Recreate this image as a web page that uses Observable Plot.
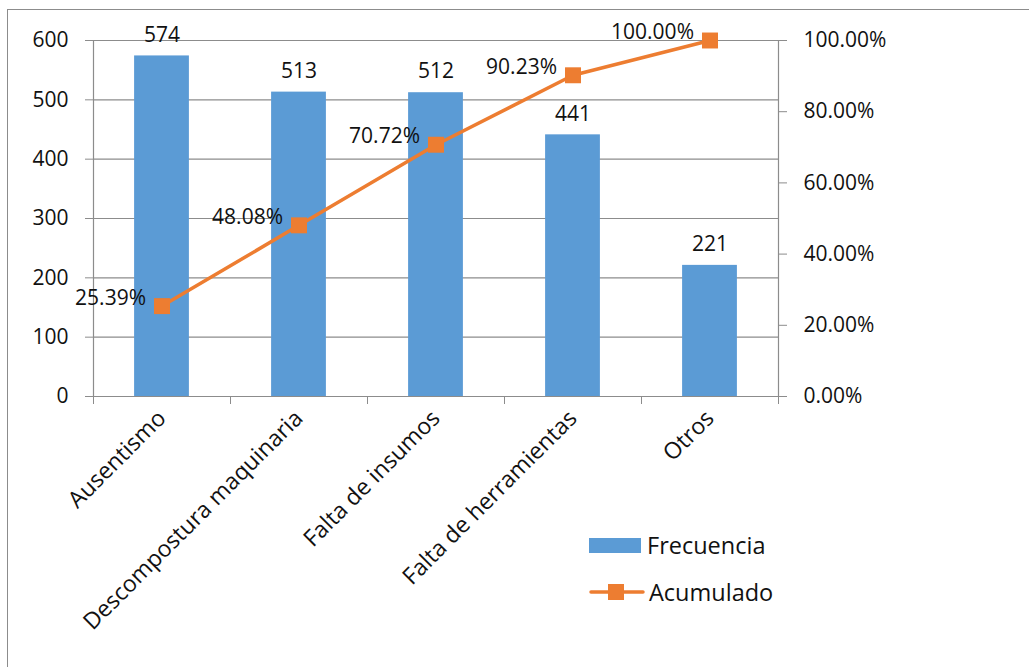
<!DOCTYPE html>
<html>
<head>
<meta charset="utf-8">
<script src="https://cdn.jsdelivr.net/npm/d3@7"></script>
<script src="https://cdn.jsdelivr.net/npm/@observablehq/plot@0.6"></script>
<style>
  html, body { margin: 0; padding: 0; background: #fff; }
  #wrap { position: relative; width: 1029px; height: 667px; overflow: hidden; font-family: "Open Sans", Lato, sans-serif; }
  #frame { position: absolute; left: 7px; top: 9px; width: 1040px; height: 700px; border: 1px solid #8c8c8c; box-sizing: border-box; pointer-events: none; }
  #chart { position: absolute; left: 0; top: 0; }
  .legend { position: absolute; left: 589px; font-size: 23.5px; color: #111; }
  .legend .row { position: absolute; left: 0; display: flex; align-items: center; white-space: nowrap; }
  .legend .swatch { width: 52px; height: 15px; background: #5B9BD5; margin-right: 6px; }
  .legend svg { margin-right: 4px; }
</style>
</head>
<body>
<div id="wrap">
  <div id="frame"></div>
  <div id="chart"></div>
  <div class="legend" style="top:529px">
    <div class="row" style="top:0"><div class="swatch"></div><span>Frecuencia</span></div>
    <div class="row" style="top:47px">
      <svg width="56" height="20"><line x1="2" y1="10" x2="54" y2="10" stroke="#ED7D31" stroke-width="3.5" stroke-linecap="round"/><rect x="19" y="2" width="16" height="16" fill="#ED7D31"/></svg>
      <span>Acumulado</span>
    </div>
  </div>
</div>
<script>
// Causes of downtime (Pareto)
const categorias = ["Ausentismo", "Descompostura maquinaria", "Falta de insumos", "Falta de herramientas", "Otros"];
const frecuencia = [574, 513, 512, 441, 221];
const acumulado = [25.39, 48.08, 70.72, 90.23, 100.00];
const ticksFrecuencia = [0, 100, 200, 300, 400, 500, 600];
const ticksAcumulado = [0, 20, 40, 60, 80, 100];

// the right axis shares the left scale: 100% sits at 600
const escala = 600 / 100;

const datos = categorias.map((c, i) => ({i, categoria: c, frecuencia: frecuencia[i], acumulado: acumulado[i]}));
const grid = "#8c8c8c";

const chart = Plot.plot({
  width: 1029,
  height: 667,
  marginLeft: 93,
  marginRight: 251,
  marginTop: 40,
  marginBottom: 271,
  style: {fontFamily: "'Open Sans', Lato, sans-serif", fontSize: "21px", color: "#111", background: "transparent"},
  x: {type: "linear", domain: [-0.5, categorias.length - 0.5]},
  y: {domain: [0, 600]},
  marks: [
    Plot.ruleY(ticksFrecuencia.slice(1), {stroke: grid, strokeWidth: 1.2}),
    Plot.rectY(datos, {x1: d => d.i - 0.2, x2: d => d.i + 0.2, y: "frecuencia", fill: "#5B9BD5"}),
    Plot.ruleY([0], {stroke: grid, strokeWidth: 1.2}),
    Plot.ruleX([-0.5, categorias.length - 0.5], {y1: 0, y2: 600, stroke: grid, strokeWidth: 1.2}),
    // category dividers below the baseline
    Plot.axisX(d3.range(-0.5, categorias.length, 1), {tickSize: 8, stroke: grid, tickFormat: () => "", label: null}),
    Plot.axisX(d3.range(categorias.length), {
      tickSize: 0, tickPadding: 18, tickRotate: -45, fontSize: 23,
      tickFormat: i => categorias[i], label: null
    }),
    Plot.axisY(ticksFrecuencia, {anchor: "left", tickSize: 8, tickPadding: 17, stroke: grid, label: null}),
    Plot.axisY(ticksAcumulado.map(t => t * escala), {
      anchor: "right", tickSize: 8, tickPadding: 17, stroke: grid, label: null,
      tickFormat: t => (t / escala).toFixed(2) + "%"
    }),
    Plot.text(datos, {x: "i", y: "frecuencia", text: d => String(d.frecuencia), dy: -21, fill: "#111"}),
    Plot.line(datos, {x: "i", y: d => d.acumulado * escala, stroke: "#ED7D31", strokeWidth: 3.5}),
    Plot.dot(datos, {x: "i", y: d => d.acumulado * escala, symbol: "square", r: 9, fill: "#ED7D31"}),
    Plot.text(datos, {
      x: "i", y: d => d.acumulado * escala, text: d => d.acumulado.toFixed(2) + "%",
      textAnchor: "end", dx: -16, dy: -8, fill: "#111"
    })
  ]
});
document.getElementById("chart").appendChild(chart);
</script>
</body>
</html>
